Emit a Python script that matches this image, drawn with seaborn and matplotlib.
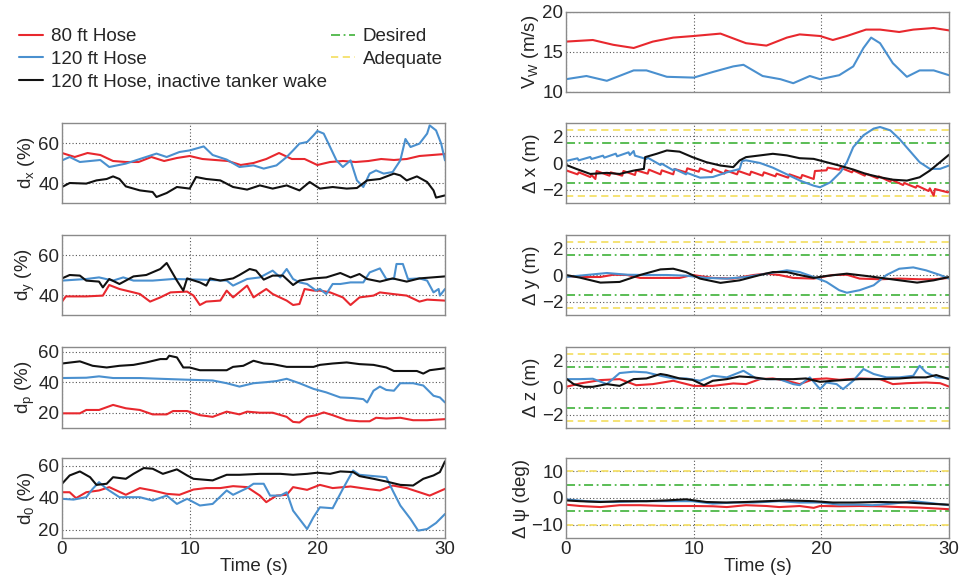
import matplotlib
matplotlib.use("Agg")
import matplotlib.pyplot as plt
import seaborn as sns
from matplotlib.lines import Line2D

sns.set_style("white")
plt.rcParams['font.family'] = ['Liberation Sans', 'DejaVu Sans']
plt.rcParams['mathtext.fontset'] = 'custom'
plt.rcParams['mathtext.rm'] = 'Liberation Sans'
plt.rcParams['mathtext.it'] = 'Liberation Sans'

RED = '#E8282E'
BLUE = '#4A90CF'
BLACK = '#111111'
GREEN = '#4DB848'
YELLOW = '#F5E06A'

# ---------------- data ----------------
# d_x (%)
dx_red_t = [0,1,2,3,4,5,6,7,8,9,10,11,12,13,14,15,16,17,18,19,20,21,22,23,24,25,26,27,28,29,30]
dx_red_v = [55,53,55,54,51,50.5,50.5,53,51,52.5,53.5,52,51.5,51,49,50,52,55,52,52,49,50.5,51,50.5,51,52,51.5,52,53.5,54,54.5]
dx_blue_t = [0,0.6,1.4,3.0,3.7,5.0,6.1,7.4,8.2,9.2,10.0,11.1,11.8,12.9,13.9,15.0,15.8,16.8,17.6,18.1,18.6,19.2,19.7,20.0,20.5,21.0,21.5,22.0,22.6,23.1,23.6,24.1,24.6,25.2,25.9,26.5,26.9,27.3,28.0,28.6,28.8,29.3,29.7,30]
dx_blue_v = [51.3,53,50.5,51.5,48,49.7,52,54.7,53,55.5,56.3,58.3,54,51.7,48,48.8,47.2,48.8,53,56.3,59.7,60.5,63.8,66,64.7,58,51.3,48,51.3,41.3,38,44.7,46.3,44.7,45.5,51.3,62,58,59.7,64.7,68.8,66.3,59.7,51.3]
dx_black_t = [0,0.6,1.9,2.7,3.5,4.0,4.5,5.0,6.1,7.1,7.4,8.2,9.0,10.0,10.5,11.3,12.4,13.4,14.5,15.5,16.5,17.6,18.6,19.4,20.2,21.2,22.3,23.1,23.9,24.9,26.0,26.5,27.0,27.8,28.6,29.1,29.3,30]
dx_black_v = [38,40,39.7,41.3,42,43.3,42,38.3,36.3,35.5,33,35,38,37.2,43,42,41.3,38,36.7,38.8,37.2,38.8,36.3,40.5,37.2,38,37.2,37.5,41.3,42,44.7,43.8,41.3,43.3,40.5,36.3,32.7,33.8]

# d_y (%)
dy_red_t = [0,0.3,1.9,3.2,3.7,4.5,5.6,6.1,6.9,7.7,8.5,9.8,10.3,10.8,11.3,12.4,12.9,13.4,14.5,15.0,16.0,16.5,17.6,18.1,18.6,19.0,19.7,20.2,21.0,22.0,22.6,23.3,24.4,24.9,25.9,27.0,28.0,28.6,30]
dy_red_v = [36.7,39.3,39.3,39.7,45,43,41.3,40.5,36.7,38.8,41.3,41.7,39.7,35,36.7,37.2,42.2,38.8,44.7,38.8,43,40.5,37.2,35,35.5,43,42.2,42.2,41.3,38.8,35,38.8,39.7,41.3,40.5,39.7,36.7,37.7,37.2]
dy_blue_t = [0,1.9,2.9,4.0,4.8,5.6,7.1,8.7,10.8,12.9,13.4,14.5,15.5,16.5,17.1,17.6,18.1,18.6,19.2,19.9,20.2,20.7,21.2,21.8,22.6,23.6,24.1,24.9,25.4,26.0,26.2,26.7,27.1,28.0,28.6,29.1,29.5,29.6,30]
dy_blue_v = [47.2,48,48.8,47.2,48.8,47.2,47.2,48,47.7,47.2,44.7,48,48.8,52.2,48.8,53,48,46.3,45.5,42.2,43,40.5,45.5,45.5,46.3,46.3,51.3,53.3,48,48,55.5,55.5,48,48.3,47.2,41.3,43,39.7,43]
dy_black_t = [0,0.6,1.4,1.9,2.9,3.2,3.7,4.5,5.6,6.6,7.7,8.2,8.4,9.0,9.5,9.8,10.8,11.3,11.6,12.4,13.4,13.9,14.7,15.2,15.8,16.5,17.3,18.1,18.6,19.7,20.7,21.8,22.6,23.3,23.9,24.9,25.9,27.0,28.0,30]
dy_black_v = [48.3,50,49.7,47.2,46.7,43.8,48,45.5,49.3,50,53,56,53.8,47.2,42.2,48.3,46.3,44.7,48.3,47.2,48.3,50,53,52.2,47.7,49.7,49.7,45,47.2,48.3,48.8,51,48.8,50.5,48,46.7,48.3,46.7,48.3,49.3]

# d_p (%)
dp_black_t = [0,1.4,2.4,3.5,4.5,5.6,6.6,7.7,8.2,8.4,9.0,9.5,10.0,10.8,11.8,12.9,13.4,14.2,15.0,15.8,16.5,17.6,18.6,19.7,20.2,21.2,22.3,23.3,24.4,25.4,26.0,27.0,27.8,28.3,28.8,30]
dp_black_v = [52.2,53.6,50.7,49.6,50.7,51.3,52.9,55.1,55.1,57.3,56.2,49.6,49.6,47.8,47.8,47.8,50,50.7,54,52.2,51.8,50,50,50,51.3,52.2,52.9,51.8,51.3,49.6,47.3,47.3,47.3,45.6,47.8,49.1]
dp_blue_t = [0,1.9,2.9,4.0,6.1,7.7,9.8,11.8,12.9,13.9,15.0,16.0,16.8,17.6,18.6,19.7,20.7,21.8,22.8,23.6,23.9,24.4,24.9,25.4,26.0,26.5,27.5,28.3,29.1,29.6,30]
dp_blue_v = [42.7,42.9,43.8,42.7,42.7,42.2,41.6,41.1,39.3,37.1,39.3,40,40.7,42.2,39.3,35.6,33.3,30,29.6,28.9,26.7,34.4,37.1,34.9,34.4,39.3,39.3,37.8,31.1,30,26.7]
dp_red_t = [0,1.4,1.9,2.9,4.0,5.0,6.1,7.1,8.2,8.7,9.8,10.8,11.8,12.9,13.9,14.5,15.5,16.5,17.6,18.1,18.6,19.2,19.9,20.5,21.2,22.3,23.3,24.1,24.6,25.4,26.5,27.5,28.6,30]
dp_red_v = [19.6,19.6,21.8,21.8,25.1,22.9,21.8,18.9,18.9,21.1,21.1,18.4,17.3,20.7,18.9,20.7,20,20,17.3,14,13.6,17.3,18.4,20.2,18.4,15.1,14.4,14.4,16.7,16.2,16.7,15.1,15.1,15.8]

# d_0 (%)
d0_black_t = [0,0.6,1.4,2.2,2.7,3.5,4.0,5.0,5.6,6.4,7.1,7.9,9.0,9.8,10.3,11.8,12.9,13.9,15.5,17.1,18.1,19.2,20.0,21.0,21.8,22.8,23.3,24.4,25.4,26.5,27.5,28.3,29.1,29.6,30]
d0_black_v = [48.9,54.1,56.6,53,48.2,48.9,53,52,55.1,58.7,58.3,55.1,57.9,54.1,52,51,54.5,54.5,55.1,55.1,54.5,55.1,55.8,55.1,56.6,56.2,53.7,52,50.3,48.2,47.8,52,54.1,56.2,62.9]
d0_red_t = [0,0.6,1.1,1.9,2.9,3.7,5.0,6.1,7.1,8.2,9.2,10.3,11.3,12.4,13.4,14.5,15.5,16.0,16.8,17.6,18.1,19.2,20.2,21.2,22.6,23.9,24.9,25.9,27.0,28.0,28.8,30]
d0_red_v = [43.6,43.6,39.9,43.6,44.7,46.8,42,46.2,44.7,42.6,42,45.3,46.2,46.2,47.4,46.8,41.5,37.4,41.5,42,46.8,45.1,48.2,46.2,47.2,45.7,44.7,47.8,46.2,43.6,41.5,45.7]
d0_blue_t = [0,0.9,1.9,2.4,2.9,3.5,4.5,6.1,7.1,8.2,9.0,9.8,10.8,11.8,12.9,13.4,14.5,15.0,15.8,16.3,17.1,17.6,18.1,19.2,19.7,20.2,21.2,22.0,22.8,23.3,24.4,25.4,25.9,26.5,27.3,27.9,28.6,29.3,30]
d0_blue_v = [39.5,39,40.5,45.7,49.9,45.7,40.5,40.5,38.4,41.5,36.3,39.5,35.3,36.3,44.7,42,46.2,48.9,48.9,41.5,41.5,43.6,32.1,20.6,28,34.2,33.6,45.7,57.2,54.5,53.7,53,44.7,35.3,26.9,19.6,20.6,24.4,30]

# V_W (m/s)
vw_red_t = [0,2.1,3.7,5.3,6.8,8.4,10.0,12.1,14.1,15.7,17.3,18.3,19.9,20.9,22.0,23.5,24.6,26.1,27.2,28.8,30]
vw_red_v = [16.3,16.5,15.9,15.5,16.3,16.8,17.0,17.3,16.1,15.8,16.8,17.2,17.0,16.5,17.0,17.8,17.8,17.5,17.8,18.0,17.7]
vw_blue_t = [0,1.6,3.2,5.3,6.3,7.9,10.0,11.5,13.1,13.9,15.4,16.8,17.8,19.1,19.9,21.4,22.5,23.3,23.9,24.6,25.6,26.7,27.7,28.8,30]
vw_blue_v = [11.6,12.0,11.4,12.7,12.7,11.9,11.8,12.5,13.2,13.4,12.0,11.6,11.1,12.0,11.6,12.1,13.2,15.5,16.8,16.1,13.6,11.9,12.7,12.7,12.1]

# Delta x (m)
ex_red_t = [0,0.9,1.0,1.9,2.0,2.3,2.4,3.4,3.5,4.4,4.5,5.4,5.5,6.4,6.5,7.4,7.5,8.4,8.5,9.4,9.5,10.4,10.5,11.4,11.5,12.4,12.5,13.4,13.5,14.4,14.5,15.4,15.5,16.4,16.5,17.4,17.5,18.4,18.5,19.4,19.5,20.4,20.5,21.4,21.5,22.4,22.5,23.4,23.5,24.4,24.5,25.4,25.5,26.4,26.5,27.4,27.5,28.4,28.5,28.8,28.9,29.9,30]
ex_red_v = [-0.55,-0.85,-0.7,-1.05,-0.9,-1.2,-0.6,-0.95,-0.7,-0.95,-0.6,-0.9,-0.55,-0.8,-0.5,-0.85,-0.55,-0.85,-0.45,-0.7,-0.4,-0.65,-0.4,-0.7,-0.45,-0.8,-0.55,-0.85,-0.6,-0.9,-0.65,-0.95,-0.7,-1.0,-0.8,-1.1,-0.85,-1.15,-0.9,-1.2,-0.6,-0.55,-0.35,-0.5,-0.35,-0.7,-0.55,-0.95,-0.8,-1.15,-1.0,-1.4,-1.25,-1.65,-1.5,-1.85,-1.7,-2.1,-1.9,-2.45,-1.95,-2.2,-2.15]
ex_blue_t = [0,0.9,1.0,1.9,2.0,2.9,3.0,3.9,4.0,4.9,5.0,5.3,5.4,6.3,6.4,7.4,7.5,8.4,8.5,9.4,9.5,10.5,11.5,12.6,13.6,13.8,14.1,15.2,16.2,17.3,18.4,19.4,19.9,20.7,21.5,22.0,22.5,23.3,24.1,24.6,25.4,26.1,26.9,27.7,28.5,29.3,30]
ex_blue_v = [0.15,0.35,0.2,0.45,0.3,0.55,0.4,0.7,0.5,0.8,0.6,0.9,0.55,0.3,0.4,-0.15,-0.05,-0.55,-0.45,-0.85,-0.75,-1.1,-1.05,-0.7,-0.45,0.15,0.2,0.0,-0.35,-0.85,-1.35,-1.7,-1.82,-1.45,-0.69,0.06,1.19,2.08,2.58,2.70,2.45,1.82,0.94,0.06,-0.44,-0.44,-0.19]
ex_black_t = [0,0.8,1.9,3.2,4.2,5.3,6.1,6.2,7.1,7.9,8.9,9.9,11.0,12.1,13.1,13.6,14.1,15.2,16.2,17.3,18.3,19.4,20.4,21.4,22.5,23.5,24.6,25.6,26.7,27.7,28.5,29.3,30]
ex_black_v = [-0.14,-0.44,-0.82,-0.74,-0.82,-0.57,-0.44,0.44,0.69,0.94,0.85,0.44,0.06,-0.19,-0.31,0.19,0.44,0.57,0.69,0.57,0.36,0.31,0.06,-0.19,-0.49,-0.82,-1.07,-1.25,-1.32,-1.07,-0.57,0.06,0.62]

# Delta y (m)
ey_black_t = [0,1.1,2.7,4.2,5.8,7.4,8.4,9.4,10.5,12.1,13.6,15.2,16.2,17.3,18.3,19.4,20.4,22.0,23.5,25.1,26.7,27.5,28.8,30]
ey_black_v = [0,-0.2,-0.57,-0.52,0,0.42,0.47,0.22,-0.27,-0.59,-0.4,0,0.22,0.22,0,-0.22,-0.07,0.1,-0.07,-0.27,-0.47,-0.57,-0.4,-0.15]
ey_blue_t = [0,1.6,3.2,4.8,6.3,7.9,9.4,11.0,12.6,14.1,15.7,17.3,18.3,19.4,20.4,21.4,22.0,23.0,24.1,25.1,26.1,27.2,28.2,29.3,30]
ey_blue_v = [-0.15,0,0.15,0.02,0,0,-0.05,-0.22,-0.27,-0.15,0.1,0.35,0.22,-0.15,-0.52,-1.14,-1.33,-1.14,-0.77,0,0.47,0.57,0.35,0,-0.27]
ey_red_t = [0,1.1,2.7,3.7,4.8,5.8,6.8,8.9,9.9,11.5,13.1,14.7,15.7,16.7,17.8,19.4,20.9,22.0,23.0,24.6,26.1,27.7,28.8,30]
ey_red_v = [-0.07,-0.15,-0.15,0.02,0,-0.22,-0.22,-0.22,0,-0.22,-0.27,0,0.1,0,-0.22,-0.27,0,0.02,-0.27,-0.32,-0.27,-0.32,-0.32,-0.22]

# Delta z (m)
ez_black_t = [0,0.6,1.4,2.1,3.2,4.2,5.3,6.3,7.4,7.9,8.9,9.9,10.8,11.5,12.6,13.6,14.7,15.7,16.8,17.8,18.8,19.9,20.9,22.0,23.0,24.6,26.1,27.2,28.2,29.0,30]
ez_black_v = [0.67,0.25,0.05,0.05,0.25,0.12,0.62,0.67,1.0,0.92,0.67,0.57,0.17,0.5,0.62,0.82,0.75,0.62,0.62,0.62,0.67,0.42,0.5,0.57,0.62,0.62,0.67,0.75,0.75,0.92,0.62]
ez_red_t = [0,1.1,2.7,4.2,5.5,6.8,8.4,10.0,11.5,13.1,14.1,15.2,16.2,17.3,18.3,19.4,20.4,21.4,23.0,24.6,25.6,26.7,28.2,29.3,30]
ez_red_v = [0.05,0.3,0.55,0.62,0.17,0.25,0.5,0.12,0.12,0.3,0.25,0.62,0.67,0.5,0.25,0.62,0.67,0.57,0.67,0.62,0.25,0.32,0.37,0.32,0.07]
ez_blue_t = [0,1.1,2.1,3.2,4.2,5.3,6.3,7.4,8.4,9.4,10.5,11.5,12.6,13.9,14.9,15.7,16.7,17.8,18.3,19.1,19.9,20.4,21.2,21.7,22.5,23.3,24.1,25.1,26.1,27.2,27.7,28.2,29.0,30]
ez_blue_v = [0.62,0.62,0.65,0.25,1.07,1.17,1.12,0.87,0.67,0.67,0.5,0.87,0.75,1.24,0.67,0.62,0.62,0.25,0.17,0.75,-0.12,0.37,0.25,-0.12,0.5,1.37,1.0,0.75,0.75,0.87,1.61,1.12,0.75,0.67]

# Delta psi (deg)
epsi_black_t = [0,1.1,2.7,4.2,6.3,7.9,9.4,11.0,12.6,14.1,15.7,17.3,19.4,20.9,22.5,24.6,26.7,28.2,30]
epsi_black_v = [-0.9,-1.2,-1.5,-1.2,-1.2,-0.9,-0.5,-1.5,-1.7,-1.5,-1.2,-0.9,-1.2,-1.7,-1.7,-1.5,-1.7,-2.1,-2.5]
epsi_blue_t = [0,1.6,3.7,5.8,7.9,9.9,11.5,13.1,14.7,16.7,18.3,19.9,21.4,23.0,24.0,25.6,27.2,28.2,30]
epsi_blue_v = [-0.5,-1.2,-1.5,-1.2,-1.2,-1.2,-2.1,-1.7,-1.7,-1.2,-1.7,-1.7,-2.5,-2.5,-2.7,-2.1,-1.2,-1.7,-2.7]
epsi_red_t = [0,1.1,2.7,4.2,5.8,7.9,9.9,11.5,12.6,14.1,15.7,16.7,18.3,19.4,19.9,21.4,23.0,24.6,26.1,27.7,30]
epsi_red_v = [-2.5,-3.0,-3.4,-2.7,-2.7,-3.0,-3.0,-3.1,-3.4,-2.7,-3.0,-3.4,-3.0,-3.7,-3.0,-3.1,-3.0,-3.1,-3.4,-3.6,-4.2]

time_ticks = [0, 10, 20, 30]
desired_xyz = 1.5
adequate_xyz = 2.5
desired_psi = 5
adequate_psi = 10

# ---------------- figure ----------------
W, H = 962, 582
fig = plt.figure(figsize=(W/100, H/100), dpi=100)

def px_axes(x0, y0, x1, y1):
    return fig.add_axes([x0/W, 1 - y1/H, (x1-x0)/W, (y1-y0)/H])

LX = (62, 445)
RX = (566, 949)
rows = [(12, 92), (123, 203), (235, 315), (347, 428), (458, 538)]

FS = 13.5

def style(ax, ylim, yticks, ylabel, bottom=False):
    ax.set_xlim(0, 30)
    ax.set_ylim(*ylim)
    ax.set_xticks(time_ticks)
    ax.set_yticks(yticks)
    for s in ax.spines.values():
        s.set_color('#8a8a8a')
        s.set_linewidth(1.0)
    ax.tick_params(direction='in', length=3, color='#8a8a8a', labelsize=FS, pad=2)
    ax.grid(True, linestyle=(0, (1, 2)), color='#555555', linewidth=0.8)
    ax.set_ylabel(ylabel, fontsize=FS, labelpad=1)
    if bottom:
        ax.set_xlabel('Time (s)', fontsize=FS, labelpad=0)
    else:
        ax.set_xticklabels([])
    ax.set_axisbelow(True)

def draw(ax, t, v, c):
    sns.lineplot(x=t, y=v, ax=ax, color=c, linewidth=1.5, estimator=None, sort=False)

def limits(ax, d, a):
    for s in (1, -1):
        ax.axhline(s*a, color=YELLOW, linestyle=(0, (4, 2.5)), linewidth=1.3, zorder=1.5)
        ax.axhline(s*d, color=GREEN, linestyle=(0, (5, 2, 1, 2)), linewidth=1.3, zorder=1.5)

# left column
ax = px_axes(LX[0], rows[1][0], LX[1], rows[1][1])
draw(ax, dx_red_t, dx_red_v, RED); draw(ax, dx_blue_t, dx_blue_v, BLUE); draw(ax, dx_black_t, dx_black_v, BLACK)
style(ax, (30, 70), [40, 60], 'd$_\\mathregular{x}$ (%)')

ax = px_axes(LX[0], rows[2][0], LX[1], rows[2][1])
draw(ax, dy_red_t, dy_red_v, RED); draw(ax, dy_blue_t, dy_blue_v, BLUE); draw(ax, dy_black_t, dy_black_v, BLACK)
style(ax, (30, 70), [40, 60], 'd$_\\mathregular{y}$ (%)')

ax = px_axes(LX[0], rows[3][0], LX[1], rows[3][1])
draw(ax, dp_red_t, dp_red_v, RED); draw(ax, dp_blue_t, dp_blue_v, BLUE); draw(ax, dp_black_t, dp_black_v, BLACK)
style(ax, (10, 63), [20, 40, 60], 'd$_\\mathregular{p}$ (%)')

ax = px_axes(LX[0], rows[4][0], LX[1], rows[4][1])
draw(ax, d0_red_t, d0_red_v, RED); draw(ax, d0_blue_t, d0_blue_v, BLUE); draw(ax, d0_black_t, d0_black_v, BLACK)
style(ax, (15, 65), [20, 40, 60], 'd$_\\mathregular{0}$ (%)', bottom=True)

# right column
ax = px_axes(RX[0], rows[0][0], RX[1], rows[0][1])
draw(ax, vw_red_t, vw_red_v, RED); draw(ax, vw_blue_t, vw_blue_v, BLUE)
style(ax, (10, 20), [10, 15, 20], 'V$_\\mathregular{W}$ (m/s)')

ax = px_axes(RX[0], rows[1][0], RX[1], rows[1][1])
limits(ax, desired_xyz, adequate_xyz)
draw(ax, ex_red_t, ex_red_v, RED); draw(ax, ex_blue_t, ex_blue_v, BLUE); draw(ax, ex_black_t, ex_black_v, BLACK)
style(ax, (-3, 3), [-2, 0, 2], 'Δ x (m)')

ax = px_axes(RX[0], rows[2][0], RX[1], rows[2][1])
limits(ax, desired_xyz, adequate_xyz)
draw(ax, ey_red_t, ey_red_v, RED); draw(ax, ey_blue_t, ey_blue_v, BLUE); draw(ax, ey_black_t, ey_black_v, BLACK)
style(ax, (-3, 3), [-2, 0, 2], 'Δ y (m)')

ax = px_axes(RX[0], rows[3][0], RX[1], rows[3][1])
limits(ax, desired_xyz, adequate_xyz)
draw(ax, ez_red_t, ez_red_v, RED); draw(ax, ez_blue_t, ez_blue_v, BLUE); draw(ax, ez_black_t, ez_black_v, BLACK)
style(ax, (-3, 3), [-2, 0, 2], 'Δ z (m)')

ax = px_axes(RX[0], rows[4][0], RX[1], rows[4][1])
limits(ax, desired_psi, adequate_psi)
draw(ax, epsi_red_t, epsi_red_v, RED); draw(ax, epsi_blue_t, epsi_blue_v, BLUE); draw(ax, epsi_black_t, epsi_black_v, BLACK)
style(ax, (-15, 15), [-10, 0, 10], 'Δ ψ (deg)', bottom=True)

# legends
h1 = [Line2D([], [], color=RED, lw=1.5), Line2D([], [], color=BLUE, lw=1.5), Line2D([], [], color=BLACK, lw=1.5)]
l1 = ['80 ft Hose', '120 ft Hose', '120 ft Hose, inactive tanker wake']
h2 = [Line2D([], [], color=GREEN, lw=1.3, linestyle=(0, (5, 2, 1, 2))), Line2D([], [], color=YELLOW, lw=1.3, linestyle=(0, (4, 2.5)))]
l2 = ['Desired', 'Adequate']
kw = dict(frameon=False, fontsize=FS, handlelength=1.3, handletextpad=0.4, labelspacing=0.3, borderpad=0, borderaxespad=0)
fig.legend(h1, l1, loc='upper left', bbox_to_anchor=(19/W, 1 - 28/H), **kw)
fig.legend(h2, l2, loc='upper left', bbox_to_anchor=(331/W, 1 - 28/H), **kw)

fig.savefig('out.png', dpi=100)
